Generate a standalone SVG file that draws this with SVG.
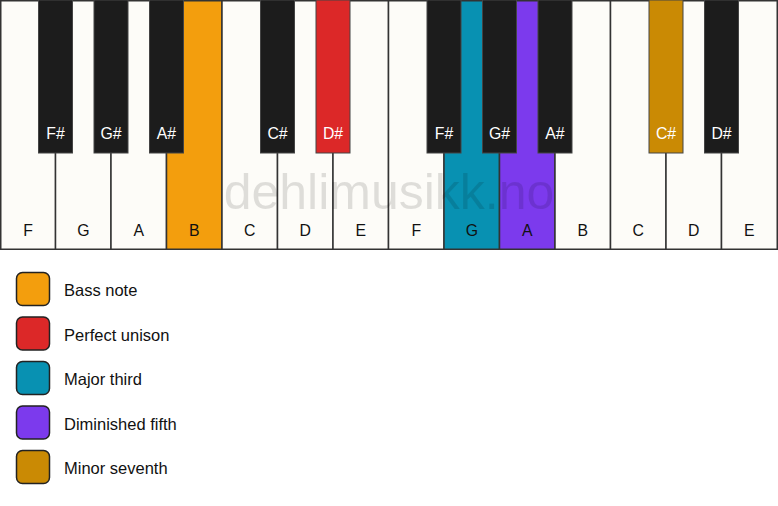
<svg xmlns="http://www.w3.org/2000/svg" width="778" height="506" viewBox="0 0 778 506">
<style>
.w{fill:#fdfcf8;stroke:#333;stroke-width:1.5}
.b{fill:#1c1c1c;stroke:#444;stroke-width:1}
.t{font-family:"Liberation Sans",Arial,sans-serif;font-size:15.8px;text-anchor:middle}
.tw{fill:#111}
.tb{fill:#fff}
.lg{stroke:#222;stroke-width:1.5}
.lt{font-family:"Liberation Sans",Arial,sans-serif;font-size:16.5px;fill:#111}
</style>
<rect x="0" y="0" width="778" height="506" fill="#fff"/>
<g id="white-keys">
<g id="w-F1"><rect class="w" x="0.75" y="0.75" width="54.8" height="248.5"/><text class="t tw" x="28" y="236">F</text></g>
<g id="w-G1"><rect class="w" x="55.5" y="0.75" width="55.5" height="248.5"/><text class="t tw" x="83.3" y="236">G</text></g>
<g id="w-A1"><rect class="w" x="111" y="0.75" width="55.5" height="248.5"/><text class="t tw" x="138.8" y="236">A</text></g>
<g id="w-B1"><rect class="w" x="166.5" y="0.75" width="55.5" height="248.5" style="fill:#f39e0d"/><text class="t tw" x="194.3" y="236">B</text></g>
<g id="w-C1"><rect class="w" x="222" y="0.75" width="55.5" height="248.5"/><text class="t tw" x="249.8" y="236">C</text></g>
<g id="w-D1"><rect class="w" x="277.5" y="0.75" width="55.5" height="248.5"/><text class="t tw" x="305.3" y="236">D</text></g>
<g id="w-E1"><rect class="w" x="333" y="0.75" width="55.5" height="248.5"/><text class="t tw" x="360.8" y="236">E</text></g>
<g id="w-F2"><rect class="w" x="388.5" y="0.75" width="55.5" height="248.5"/><text class="t tw" x="416.3" y="236">F</text></g>
<g id="w-G2"><rect class="w" x="444" y="0.75" width="55.5" height="248.5" style="fill:#0891b2"/><text class="t tw" x="471.8" y="236">G</text></g>
<g id="w-A2"><rect class="w" x="499.5" y="0.75" width="55.5" height="248.5" style="fill:#7c3aed"/><text class="t tw" x="527.3" y="236">A</text></g>
<g id="w-B2"><rect class="w" x="555" y="0.75" width="55.5" height="248.5"/><text class="t tw" x="582.8" y="236">B</text></g>
<g id="w-C2"><rect class="w" x="610.5" y="0.75" width="55.5" height="248.5"/><text class="t tw" x="638.3" y="236">C</text></g>
<g id="w-D2"><rect class="w" x="666" y="0.75" width="55.5" height="248.5"/><text class="t tw" x="693.8" y="236">D</text></g>
<g id="w-E2"><rect class="w" x="721.5" y="0.75" width="55.75" height="248.5"/><text class="t tw" x="749.3" y="236">E</text></g>
</g>
<text x="389" y="209" text-anchor="middle" font-family="'Liberation Sans',Arial,sans-serif" font-size="50" fill="#000" fill-opacity="0.12">dehlimusikk.no</text>
<g id="black-keys">
<g id="b-Fs1"><rect class="b" x="38.5" y="0" width="34" height="153"/><text class="t tb" x="55.5" y="139">F#</text></g>
<g id="b-Gs1"><rect class="b" x="94" y="0" width="34" height="153"/><text class="t tb" x="111" y="139">G#</text></g>
<g id="b-As1"><rect class="b" x="149.5" y="0" width="34" height="153"/><text class="t tb" x="166.5" y="139">A#</text></g>
<g id="b-Cs1"><rect class="b" x="260.5" y="0" width="34" height="153"/><text class="t tb" x="277.5" y="139">C#</text></g>
<g id="b-Ds1"><rect class="b" x="316" y="0" width="34" height="153" style="fill:#dc2828"/><text class="t tb" x="333" y="139">D#</text></g>
<g id="b-Fs2"><rect class="b" x="427" y="0" width="34" height="153"/><text class="t tb" x="444" y="139">F#</text></g>
<g id="b-Gs2"><rect class="b" x="482.5" y="0" width="34" height="153"/><text class="t tb" x="499.5" y="139">G#</text></g>
<g id="b-As2"><rect class="b" x="538" y="0" width="34" height="153"/><text class="t tb" x="555" y="139">A#</text></g>
<g id="b-Cs2"><rect class="b" x="649" y="0" width="34" height="153" style="fill:#ca8a04"/><text class="t tb" x="666" y="139">C#</text></g>
<g id="b-Ds2"><rect class="b" x="704.5" y="0" width="34" height="153"/><text class="t tb" x="721.5" y="139">D#</text></g>
</g>
<g id="legend">
<g id="lg-bass"><rect class="lg" x="16.5" y="272.5" width="33" height="33" rx="6" fill="#f39e0d"/><text class="lt" x="64" y="296">Bass note</text></g>
<g id="lg-unison"><rect class="lg" x="16.5" y="317" width="33" height="33" rx="6" fill="#dc2828"/><text class="lt" x="64" y="340.5">Perfect unison</text></g>
<g id="lg-third"><rect class="lg" x="16.5" y="361.5" width="33" height="33" rx="6" fill="#0891b2"/><text class="lt" x="64" y="385">Major third</text></g>
<g id="lg-fifth"><rect class="lg" x="16.5" y="406" width="33" height="33" rx="6" fill="#7c3aed"/><text class="lt" x="64" y="429.5">Diminished fifth</text></g>
<g id="lg-seventh"><rect class="lg" x="16.5" y="450.5" width="33" height="33" rx="6" fill="#ca8a04"/><text class="lt" x="64" y="474">Minor seventh</text></g>
</g>
</svg>
